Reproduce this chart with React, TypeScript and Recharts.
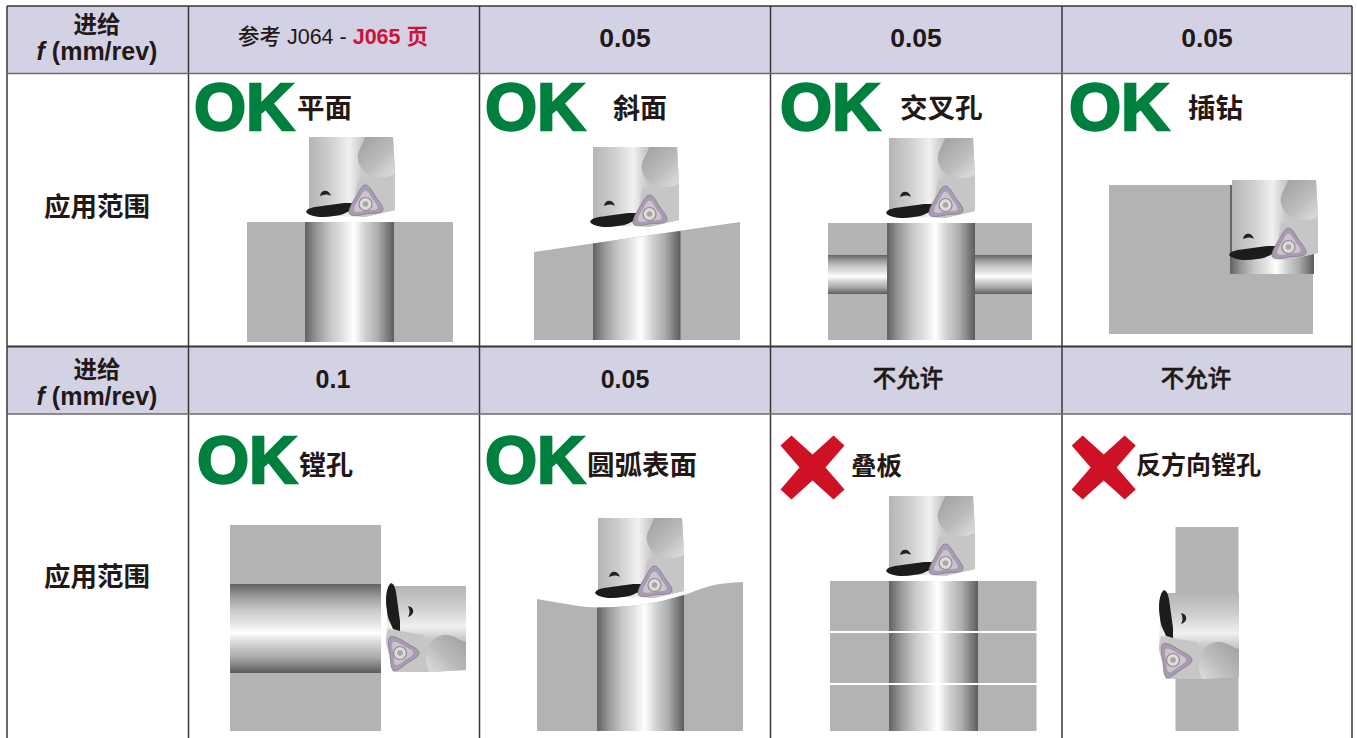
import React from 'react';
import { ComposedChart, Area, Scatter, XAxis, YAxis, ReferenceLine } from 'recharts';

const WIDTH = 1357;
const HEIGHT = 738;

// table content
const feedTitle = '进给';
const feedUnit = ' (mm/rev)';
const scopeTitle = '应用范围';
const feedValuesTop = ['0.05', '0.05', '0.05'];
const feedValuesBottom = ['0.1', '0.05', '不允许', '不允许'];
const operationNames = ['平面', '斜面', '交叉孔', '插钻', '镗孔', '圆弧表面', '叠板', '反方向镗孔'];
const verdicts = ['OK', 'OK', 'OK', 'OK', 'OK', 'OK', 'X', 'X'];

// grid, in picture units (the axes run 0..1357 and 0..738)
const columnEdges = [7, 188.5, 479.5, 770.5, 1062, 1352];
const rowEdges = [6, 73.5, 346.5, 414];
const columnCentres = [97, 333, 625, 916, 1207];
const bottomValueCentres = [333, 625, 908, 1196];

// layout of the verdict and the operation name in each of the eight cells
const verdictAnchors = [[195, 129.5], [486, 129.5], [781, 129.5], [1070, 129.5], [198, 482.5], [486, 482.5], [812.5, 467.5], [1103.7, 467.5]];
const nameAnchors = [[297, 118, 27.5], [613, 118, 27], [900, 118, 27.5], [1188, 118, 27.5], [299, 475, 27], [587, 475, 27.5], [851, 475, 25.5], [1136, 474, 25]];
const toolAnchors = [[308, 137, 0], [592, 147, 0], [888, 138, 0], [1231, 180, 0], [386, 585, 1], [597, 518, 0], [888, 496, 0], [1159, 592, 1]];

const INK = '#231815';
const CJK = '"Noto Sans CJK SC", sans-serif';
const LATIN = '"Liberation Sans", Arial, sans-serif';

type Band = { x: number; band: [number, number] };
const rect = (x1: number, x2: number, y1: number, y2: number): Band[] => [
  { x: x1, band: [y1, y2] },
  { x: x2, band: [y1, y2] },
];
const topped = (points: number[][], bottom: number): Band[] =>
  points.map(([x, top]) => ({ x, band: [top, bottom] }));

// solid grey workpieces
const solidPlain = [
  rect(247, 453, 222, 342),
  rect(828, 1032, 223, 340),
  rect(1109, 1313, 185, 334),
  rect(230, 381, 525, 731),
  rect(830, 1036.5, 581, 731),
  rect(1175.5, 1238.5, 527, 731),
];
const solidSloped = topped([[534, 252], [740, 222]], 340);
const solidWavyTop = [[537, 599], [560, 603], [597, 607.5], [640, 605], [684, 595], [710, 586], [743, 582]];
const solidWavy = topped(solidWavyTop, 731);

// holes through the workpieces
const holesVertical = [
  rect(305, 394, 222, 342),
  topped([[593, 243.5], [680.5, 231]], 340),
  rect(887, 975, 223, 340),
  rect(1230, 1314, 185, 274),
  topped(solidWavyTop.slice(2, 5), 731),
  rect(889, 978, 581, 731),
];
const holesHorizontal = [
  rect(828, 887, 255, 294),
  rect(975, 1032, 255, 294),
  rect(230, 381, 584, 673),
];
const plateGaps = [rect(830, 1037, 631, 633), rect(830, 1037, 683, 685)];

const headerBands = [
  rect(columnEdges[0], columnEdges[5], rowEdges[0], rowEdges[1]),
  rect(columnEdges[0], columnEdges[5], rowEdges[2], rowEdges[3]),
];

type Label = { x: number; y: number; node: React.ReactNode; size: number; weight?: number; family?: string; fill?: string; anchor?: string; outline?: number };

const feedHeader = (y1: number, y2: number): Label[] => [
  { x: columnCentres[0], y: y1, node: feedTitle, size: 23.5, family: CJK },
  {
    x: columnCentres[0],
    y: y2,
    size: 25,
    family: LATIN,
    node: (
      <>
        <tspan fontStyle="italic">f</tspan>
        {feedUnit}
      </>
    ),
  },
];

const isLatin = (s: string) => /^[\d.]+$/.test(s);

const labels: Label[] = [
  ...feedHeader(33, 60),
  ...feedHeader(378, 405),
  { x: columnCentres[0], y: 216, node: scopeTitle, size: 26.5, family: CJK },
  { x: columnCentres[0], y: 586, node: scopeTitle, size: 26.5, family: CJK },
  {
    x: columnCentres[1],
    y: 44,
    size: 21.5,
    weight: 400,
    family: LATIN,
    node: (
      <>
        <tspan fontFamily={CJK} fontWeight={500}>参考</tspan> J064 - <tspan fill="#cf1237" fontWeight={700}>J065 <tspan fontFamily={CJK}>页</tspan></tspan>
      </>
    ),
  },
  ...feedValuesTop.map((v, i) => ({ x: columnCentres[i + 2], y: 47, node: v, size: 26.5, family: LATIN })),
  ...feedValuesBottom.map((v, i) => ({
    x: bottomValueCentres[i],
    y: isLatin(v) ? 388 : 387,
    node: v,
    size: isLatin(v) ? 25 : 23.5,
    weight: isLatin(v) ? 700 : 500,
    outline: isLatin(v) ? 0 : 0.5,
    family: isLatin(v) ? LATIN : CJK,
  })),
  ...operationNames.map((name, i) => ({
    x: nameAnchors[i][0],
    y: nameAnchors[i][1],
    size: nameAnchors[i][2],
    node: name,
    family: CJK,
    anchor: 'start',
  })),
  ...verdicts.flatMap((v, i) =>
    v === 'OK'
      ? [{ x: verdictAnchors[i][0] - 1, y: verdictAnchors[i][1], node: v, size: 67, family: LATIN, fill: '#00803f', anchor: 'start', outline: 2.4 }]
      : []
  ),
];

const crossPoints = verdicts.flatMap((v, i) => (v === 'X' ? [{ x: verdictAnchors[i][0], y: verdictAnchors[i][1] }] : []));
const toolPoints = toolAnchors.map(([x, y, sideways]) => ({ x, y, sideways }));

const LabelShape = (props: any) => {
  const p: Label = props.payload;
  const fill = p.fill ?? INK;
  return (
    <text
      x={props.cx}
      y={props.cy}
      fontSize={p.size}
      fontWeight={p.weight ?? 700}
      fontFamily={p.family}
      fill={fill}
      textAnchor={p.anchor ?? 'middle'}
      stroke={p.outline ? fill : 'none'}
      strokeWidth={p.outline ?? 0}
    >
      {p.node}
    </text>
  );
};

const CrossShape = (props: any) => (
  <path
    transform={`translate(${props.cx} ${props.cy})`}
    d="M-32,-22 L-21,-32 L0,-13 L21,-32 L32,-22 L13,0 L32,22 L21,32 L0,13 L-21,32 L-32,22 L-13,0 Z"
    fill="#cf1126"
  />
);

const INSERT = 'M0,-19 C4,-19 7,-12 11,-6 C15,-1 19,4 17,7 C14,10 6,9 0,10 C-5,11 -13,13 -16,10 C-18,6 -13,-2 -9,-8 C-6,-13 -4,-19 0,-19 Z';

// the milling head, drawn once in its own 87x80 frame
const ToolShape = (props: any) => {
  const sideways = props.payload.sideways === 1;
  const transform = sideways
    ? `translate(${props.cx + 80} ${props.cy}) rotate(90)`
    : `translate(${props.cx} ${props.cy})`;
  const insert = sideways ? [68, 66] : [57.5, 67];
  const hole = sideways ? [26, 55] : [17, 56];
  return (
    <g transform={transform}>
      <path d="M1,0 L85,0 L87,36 L87,73 L57,80 L1,78 Z" fill="url(#toolBody)" />
      <path d="M50,42 L87,36 L87,73 L57,80 L44,78 Z" fill="#c6c6c6" />
      <path d="M57,0 C55,8 48,15 50,23 C52,34 62,41 75,40 C80,40 85,38 87,36 L85,0 Z" fill="url(#toolBulge)" />
      <path
        d={`M${hole[0] - 5},${hole[1] + 3} C${hole[0] - 4},${hole[1] - 4} ${hole[0] + 4},${hole[1] - 4} ${hole[0] + 6},${hole[1] + 3} C${hole[0] + 3},${hole[1] + 1} ${hole[0] - 1},${hole[1] + 1} ${hole[0] - 5},${hole[1] + 3} Z`}
        fill="#222"
      />
      <path d="M-2,75 C-1,71 6,70 14,69 L36,66 L46,66 L44,73 C38,75 36,78 26,79 C14,81 2,80 -2,75 Z" fill="#1c1c1c" />
      <g transform={`translate(${insert[0]} ${insert[1]})`}>
        <path d={INSERT} fill="#a99bb1" stroke="#85788f" strokeWidth={0.8} />
        <path d={INSERT} transform="scale(0.72)" fill="#cbc3ce" stroke="#9b8fa4" strokeWidth={0.8} />
        <circle r={6.5} fill="#dcdcdc" stroke="#8c8c8c" strokeWidth={1.2} />
        <circle r={2.8} fill="#a6a6a6" />
      </g>
    </g>
  );
};

const plainArea = (data: Band[], fill: string, key: string, type: 'linear' | 'monotone' = 'linear') => (
  <Area
    key={key}
    data={data}
    dataKey="band"
    type={type}
    stroke="none"
    fill={fill}
    fillOpacity={1}
    dot={false}
    activeDot={false}
    isAnimationActive={false}
  />
);

const holeStops = [
  [0, '#626262'],
  [0.14, '#9a9a9a'],
  [0.3, '#c9cbcb'],
  [0.42, '#dfe1e1'],
  [0.55, '#ffffff'],
  [0.68, '#cfd1d1'],
  [0.82, '#acacac'],
  [1, '#5c5c5c'],
];

const hSegment = (y: number) => [{ x: columnEdges[0], y }, { x: columnEdges[5], y }];
const vSegment = (x: number) => [{ x, y: rowEdges[0] }, { x, y: HEIGHT }];

export default function App() {
  return (
    <div style={{ position: 'absolute', left: 0, top: 0, width: WIDTH, height: HEIGHT, background: '#fff' }}>
      <ComposedChart width={WIDTH} height={HEIGHT} margin={{ top: 0, right: 0, bottom: 0, left: 0 }}>
        <defs>
          <linearGradient id="holeV" x1="0" y1="0" x2="1" y2="0">
            {holeStops.map(([o, c]) => <stop key={o} offset={o} stopColor={c as string} />)}
          </linearGradient>
          <linearGradient id="holeH" x1="0" y1="0" x2="0" y2="1">
            {holeStops.map(([o, c]) => <stop key={o} offset={o} stopColor={c as string} />)}
          </linearGradient>
          <linearGradient id="toolBody" x1="0" y1="0" x2="1" y2="0">
            <stop offset="0" stopColor="#b4b4b4" />
            <stop offset="0.25" stopColor="#cfcfcf" />
            <stop offset="0.47" stopColor="#f0f0f0" />
            <stop offset="0.62" stopColor="#c8c8c8" />
            <stop offset="1" stopColor="#bdbdbd" />
          </linearGradient>
          <linearGradient id="toolBulge" x1="0" y1="0" x2="0.9" y2="1">
            <stop offset="0" stopColor="#9e9e9e" />
            <stop offset="0.6" stopColor="#bcbcbc" />
            <stop offset="1" stopColor="#dcdcdc" />
          </linearGradient>
        </defs>
        <XAxis dataKey="x" type="number" domain={[0, WIDTH]} hide allowDataOverflow />
        <YAxis dataKey="y" type="number" domain={[0, HEIGHT]} reversed hide allowDataOverflow />

        {headerBands.map((b, i) => plainArea(b, '#d2d2e4', `band-${i}`))}
        {solidPlain.map((b, i) => plainArea(b, '#b3b3b3', `solid-${i}`))}
        {plainArea(solidSloped, '#b3b3b3', 'sloped')}
        {plainArea(solidWavy, '#b3b3b3', 'wavy', 'monotone')}
        {holesHorizontal.map((b, i) => plainArea(b, 'url(#holeH)', `holeH-${i}`))}
        {holesVertical.map((b, i) => plainArea(b, 'url(#holeV)', `holeV-${i}`, i === 4 ? 'monotone' : 'linear'))}
        {plateGaps.map((b, i) => plainArea(b, '#ffffff', `gap-${i}`))}

        <Scatter data={toolPoints} shape={ToolShape} isAnimationActive={false} />
        <Scatter data={crossPoints} shape={CrossShape} isAnimationActive={false} />
        <Scatter data={labels} shape={LabelShape} isAnimationActive={false} />

        {columnEdges.map((x) => (
          <ReferenceLine key={x} segment={vSegment(x)} stroke="#3c3536" strokeWidth={1.5} />
        ))}
        <ReferenceLine segment={hSegment(rowEdges[0])} stroke="#3c3536" strokeWidth={1.5} />
        <ReferenceLine segment={hSegment(rowEdges[1])} stroke="#6f6a6b" strokeWidth={1.5} />
        <ReferenceLine segment={hSegment(rowEdges[2])} stroke="#3c3536" strokeWidth={2} />
        <ReferenceLine segment={hSegment(rowEdges[3])} stroke="#6f6a6b" strokeWidth={1.5} />
      </ComposedChart>
    </div>
  );
}
